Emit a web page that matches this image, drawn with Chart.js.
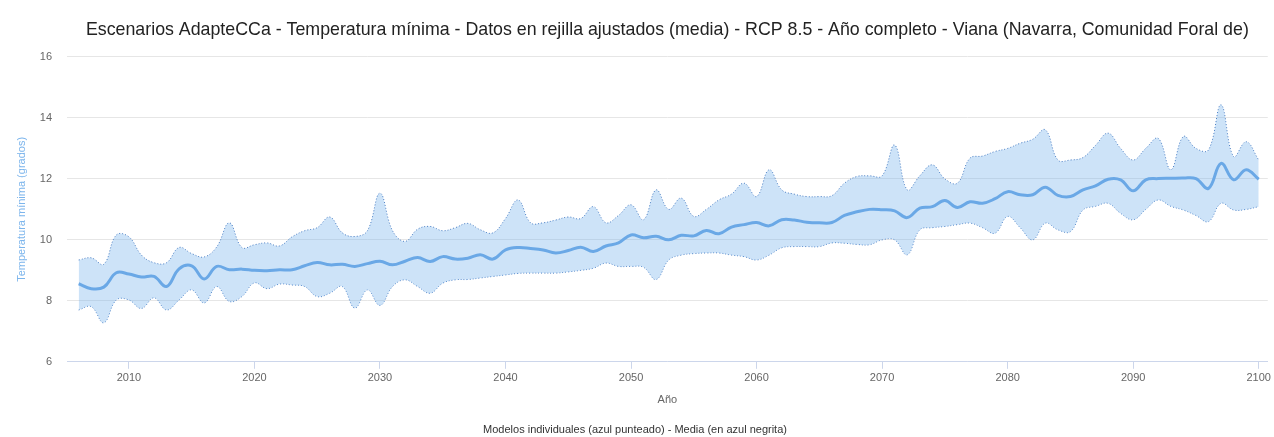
<!DOCTYPE html>
<html lang="es">

<head>
    <meta charset="UTF-8">
    <meta name="viewport" content="width=device-width, initial-scale=1.0">
    <title>Escenarios AdapteCCa - Temperatura mínima - Viana</title>
    <style>
        body {
            margin: 0;
            background-color: #fff;
        }
    </style>
</head>

<body>
    <canvas id="tempChart" width="1274" height="437"></canvas>

    <script src="https://cdn.jsdelivr.net/npm/chart.js"></script>
    <script>
        // años 2006 - 2100
        const firstYear = 2006;
        const lastYear = 2100;
        const years = [];
        for (let y = firstYear; y <= lastYear; y++) years.push(y);

        // media de los modelos (azul negrita)
        const mean = [
            8.56, 8.40, 8.45, 8.92, 8.88, 8.78, 8.80, 8.47, 9.05, 9.15,
            8.72, 9.13, 9.02, 9.04, 9.00, 8.99, 9.02, 9.02, 9.15, 9.26,
            9.18, 9.20, 9.13, 9.22, 9.30, 9.18, 9.30, 9.42, 9.29, 9.45,
            9.37, 9.40, 9.51, 9.37, 9.67, 9.75, 9.72, 9.67, 9.57, 9.65,
            9.76, 9.62, 9.80, 9.90, 10.16, 10.07, 10.12, 10.00, 10.15, 10.13,
            10.31, 10.20, 10.42, 10.50, 10.57, 10.46, 10.66, 10.65, 10.58, 10.56,
            10.57, 10.80, 10.92, 11.00, 10.99, 10.95, 10.73, 11.04, 11.09, 11.29,
            11.06, 11.25, 11.20, 11.35, 11.58, 11.48, 11.48, 11.73, 11.46, 11.42,
            11.64, 11.77, 11.99, 11.97, 11.61, 11.97, 12.01, 12.02, 12.03, 12.01,
            11.69, 12.51, 11.97, 12.30, 11.99
        ];

        // máximo de los modelos individuales
        const modelMax = [
            9.34, 9.41, 9.20, 10.16, 10.10, 9.50, 9.25, 9.25, 9.75, 9.55,
            9.44, 9.77, 10.56, 9.75, 9.84, 9.90, 9.80, 10.10, 10.30, 10.40,
            10.75, 10.23, 10.11, 10.30, 11.53, 10.30, 9.95, 10.35, 10.44, 10.30,
            10.40, 10.54, 10.33, 10.23, 10.70, 11.31, 10.56, 10.56, 10.65, 10.75,
            10.70, 11.09, 10.56, 10.80, 11.15, 10.66, 11.64, 11.00, 11.37, 10.77,
            11.00, 11.31, 11.50, 11.86, 11.42, 12.30, 11.64, 11.50, 11.42, 11.42,
            11.45, 11.86, 12.08, 12.10, 12.10, 13.11, 11.64, 12.10, 12.46, 12.00,
            11.86, 12.68, 12.75, 12.90, 13.00, 13.17, 13.30, 13.61, 12.62, 12.62,
            12.70, 13.10, 13.50, 13.00, 12.62, 13.00, 13.33, 12.30, 13.39, 13.00,
            12.95, 14.43, 12.73, 13.22, 12.62
        ];

        // mínimo de los modelos individuales
        const modelMin = [
            7.70, 7.81, 7.28, 8.03, 8.03, 7.75, 8.10, 7.70, 8.03, 8.36,
            7.93, 8.47, 7.98, 8.14, 8.59, 8.40, 8.55, 8.52, 8.47, 8.14,
            8.25, 8.47, 7.76, 8.36, 7.85, 8.47, 8.69, 8.47, 8.25, 8.58,
            8.69, 8.70, 8.75, 8.80, 8.85, 8.90, 8.91, 8.91, 8.91, 8.95,
            9.00, 9.07, 9.24, 9.13, 9.13, 9.10, 8.70, 9.34, 9.50, 9.55,
            9.57, 9.57, 9.50, 9.45, 9.34, 9.50, 9.74, 9.78, 9.78, 9.78,
            9.90, 9.89, 9.85, 9.84, 10.00, 10.00, 9.51, 10.33, 10.40, 10.44,
            10.50, 10.55, 10.40, 10.22, 10.77, 10.40, 10.00, 10.55, 10.33, 10.27,
            10.98, 11.10, 11.20, 10.87, 10.66, 11.00, 11.31, 11.10, 10.98, 10.80,
            10.60, 11.20, 10.98, 11.00, 11.09
        ];

        const xTicks = [2010, 2020, 2030, 2040, 2050, 2060, 2070, 2080, 2090, 2100];
        const yTicks = [6, 8, 10, 12, 14, 16];

        const toPoints = (arr) => arr.map((v, i) => ({ x: years[i], y: v }));

        const FONT = "'Liberation Sans', Arial, sans-serif";
        Chart.defaults.font.family = FONT;

        const ctx = document.getElementById('tempChart').getContext('2d');
        const tempChart = new Chart(ctx, {
            type: 'line',
            data: {
                datasets: [
                    {
                        label: 'Máximo modelos',
                        data: toPoints(modelMax),
                        borderColor: 'rgba(60, 115, 190, 0.9)',
                        borderWidth: 1,
                        borderDash: [1, 2],
                        backgroundColor: 'rgba(124, 181, 236, 0.38)',
                        fill: '+1',
                        pointRadius: 0,
                        tension: 0.4,
                        order: 2
                    },
                    {
                        label: 'Mínimo modelos',
                        data: toPoints(modelMin),
                        borderColor: 'rgba(60, 115, 190, 0.9)',
                        borderWidth: 1,
                        borderDash: [1, 2],
                        fill: false,
                        pointRadius: 0,
                        tension: 0.4,
                        order: 2
                    },
                    {
                        label: 'Media',
                        data: toPoints(mean),
                        borderColor: '#6aa8e6',
                        borderWidth: 3,
                        fill: false,
                        pointRadius: 0,
                        tension: 0.4,
                        order: 1
                    }
                ]
            },
            options: {
                responsive: false,
                animation: false,
                layout: {
                    padding: { left: 0, right: 4, top: 0, bottom: 0 }
                },
                plugins: {
                    legend: { display: false },
                    tooltip: { enabled: false },
                    title: {
                        display: true,
                        fullSize: false,
                        text: 'Escenarios AdapteCCa - Temperatura mínima - Datos en rejilla ajustados (media) - RCP 8.5 - Año completo - Viana (Navarra, Comunidad Foral de)',
                        color: '#222222',
                        font: { size: 17.8, weight: 'normal', family: FONT },
                        padding: { top: 19, bottom: 16.6 }
                    },
                    subtitle: {
                        display: true,
                        position: 'bottom',
                        text: 'Modelos individuales (azul punteado) - Media (en azul negrita)',
                        color: '#333333',
                        font: { size: 11, family: FONT },
                        padding: { top: 12, bottom: 0 }
                    }
                },
                scales: {
                    x: {
                        type: 'linear',
                        min: 2005.07,
                        max: 2100.72,
                        afterFit: (scale) => { scale.height = 50; },
                        afterBuildTicks: (scale) => {
                            scale.ticks = xTicks.map(v => ({ value: v }));
                        },
                        grid: {
                            drawOnChartArea: false,
                            drawTicks: true,
                            tickLength: 7,
                            color: '#ccd6eb'
                        },
                        border: { color: '#ccd6eb' },
                        ticks: {
                            color: '#666666',
                            font: { size: 11 },
                            padding: 3,
                            maxRotation: 0,
                            callback: (v) => String(v)
                        },
                        title: {
                            display: true,
                            text: 'Año',
                            color: '#666666',
                            font: { size: 11 },
                            padding: { top: 0, bottom: 5 }
                        }
                    },
                    y: {
                        min: 6,
                        max: 16,
                        afterFit: (scale) => { scale.width = 67; },
                        afterBuildTicks: (scale) => {
                            scale.ticks = yTicks.map(v => ({ value: v }));
                        },
                        grid: {
                            color: '#e6e6e6',
                            drawTicks: false
                        },
                        border: { display: false },
                        ticks: {
                            color: '#666666',
                            font: { size: 11 },
                            padding: 15
                        },
                        title: {
                            display: true,
                            text: 'Temperatura mínima (grados)',
                            color: '#7cb5ec',
                            font: { size: 11 },
                            padding: { top: 15, bottom: 0 }
                        }
                    }
                }
            }
        });
    </script>
</body>

</html>
